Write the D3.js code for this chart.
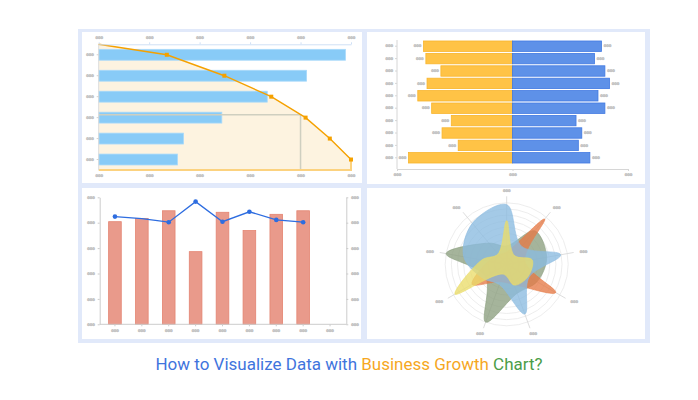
<!DOCTYPE html>
<html>
<head>
<meta charset="utf-8">
<script src="https://cdn.jsdelivr.net/npm/d3@7"></script>
<style>
    body { margin: 0; background: #ffffff; }
</style>
</head>
<body>
<svg id="drawing_region"></svg>
<script>
// top-left: horizontal bars with cumulative curve
const paretoCats = ['A', 'B', 'C', 'D', 'E', 'F'];
const paretoBars = [489, 412, 334, 244, 168, 156];
const paretoLine = [0, 135, 249, 342, 410, 458, 500];
const paretoTicks = [0, 100, 200, 300, 400, 500];
const paretoMark = 400;

// top-right: butterfly bars
const butterflyCats = ['R1', 'R2', 'R3', 'R4', 'R5', 'R6', 'R7', 'R8', 'R9', 'R10'];
const butterflyLeft = [77, 75, 62, 74, 82, 70, 53, 61, 47, 90];
const butterflyRight = [77, 71, 80, 84, 74, 80, 55, 60, 57, 67];
const butterflyTicks = [-100, 0, 100];

// bottom-left: bars + line on two axes
const comboCats = ['C1', 'C2', 'C3', 'C4', 'C5', 'C6', 'C7', 'C8', 'C9'];
const comboBars = [404, 417, 447, 286, 441, 369, 433, 447];
const comboLine = [424, 416, 402, 483, 404, 443, 411, 402];
const comboTicks = [0, 100, 200, 300, 400, 500];

// bottom-right: radar
const radarAxes = ['K1', 'K2', 'K3', 'K4', 'K5', 'K6', 'K7', 'K8', 'K9'];
const radarGreen = [0.30, 0.71, 0.66, 0.57, 0.50, 1.00, 0.40, 1.00, 0.45];
const radarOrange = [0.20, 0.96, 0.30, 0.92, 0.35, 0.30, 0.65, 0.30, 0.20];
const radarBlue = [0.97, 0.38, 0.89, 0.42, 0.86, 0.35, 0.45, 0.71, 0.87];
const radarYellow = [0.71, 0.19, 0.42, 0.40, 0.36, 0.17, 0.97, 0.41, 0.22];

const titleParts = [
    { text: 'How to Visualize Data with ', color: '#3f74dd' },
    { text: 'Business Growth', color: '#f6a71f' },
    { text: ' Chart?', color: '#4b9d48' }
];

const svg = d3.select('#drawing_region')
    .attr('width', 698)
    .attr('height', 400)
    .style('font-family', 'Roboto, sans-serif');

// frame + four white panels
svg.append('rect')
    .attr('x', 78).attr('y', 29).attr('width', 572).attr('height', 314)
    .attr('fill', '#e1e9fa');

const panels = [
    {x: 82, y: 32, w: 280, h: 151},
    {x: 367, y: 32, w: 278, h: 152},
    {x: 82, y: 188, w: 279, h: 151},
    {x: 367, y: 188, w: 278, h: 151}
];
svg.selectAll('.panel')
    .data(panels)
    .enter()
    .append('rect')
    .attr('class', 'panel')
    .attr('x', d => d.x).attr('y', d => d.y)
    .attr('width', d => d.w).attr('height', d => d.h)
    .attr('fill', '#ffffff');

// blurred placeholder labels
function styleText( sel ) {
    sel.attr('font-size', 3.6)
        .attr('font-family', 'DejaVu Sans, sans-serif')
        .attr('font-weight', 'bold')
        .attr('fill', '#b4b4b4')
        .attr('stroke', '#c4c4c4')
        .attr('stroke-width', 0.5)
        .attr('stroke-linejoin', 'round');
}

function styleAxis( g, lineColor ) {
    styleText(g.selectAll('text'));
    g.selectAll('line').attr('stroke', lineColor);
    g.select('.domain').attr('stroke', lineColor);
}

function blob( g, x, y, anchor ) {
    const t = g.append('text')
        .attr('x', x)
        .attr('y', y)
        .attr('text-anchor', anchor || 'middle')
        .attr('dy', '0.35em')
        .text('000');
    styleText(t);
}

// ---------- top-left ----------
{
    const g = svg.append('g');
    const x = d3.scaleLinear().domain([0, 500]).range([98.7, 351]);
    const y = d3.scaleBand().domain(paretoCats).range([44.3, 170])
        .paddingInner(0.48).paddingOuter(0.24);
    const top = 44.3, bottom = 170;

    const ly = (d, i) => i === 0 ? top : y(paretoCats[i - 1]) + y.bandwidth() / 2;
    const pts = paretoLine.map((v, i) => [x(v), ly(v, i)]);

    const area = pts.concat([[x(500), bottom], [x(0), bottom]]);
    g.append('path')
        .attr('d', d3.line()(area) + 'Z')
        .attr('fill', '#fdf3e0');

    g.selectAll('.bar')
        .data(paretoBars)
        .enter()
        .append('rect')
        .attr('x', x(0))
        .attr('y', (d, i) => y(paretoCats[i]))
        .attr('width', d => x(d) - x(0))
        .attr('height', y.bandwidth())
        .attr('fill', '#88cbf7')
        .attr('stroke', '#a8d9fa')
        .attr('stroke-width', 0.8);

    // guide lines at the marked value
    const markY = 114.7;
    g.append('path')
        .attr('d', `M${x(0)},${markY}H${x(paretoMark)}V${bottom}`)
        .attr('fill', 'none')
        .attr('stroke', '#cfcfc0')
        .attr('stroke-width', 1.5);

    g.append('path')
        .attr('d', `M${x(0)},${bottom}H${x(500)}V${pts[pts.length - 1][1]}`)
        .attr('fill', 'none')
        .attr('stroke', '#fcd27f')
        .attr('stroke-width', 2);

    g.append('line')
        .attr('x1', x(0)).attr('x2', x(0))
        .attr('y1', top).attr('y2', bottom)
        .attr('stroke', '#dcdcdc');

    g.append('path')
        .attr('d', d3.line()(pts))
        .attr('fill', 'none')
        .attr('stroke', '#f5a100')
        .attr('stroke-width', 1.4);

    g.selectAll('.dot')
        .data(pts.slice(1))
        .enter()
        .append('rect')
        .attr('x', d => d[0] - 2)
        .attr('y', d => d[1] - 2)
        .attr('width', 4)
        .attr('height', 4)
        .attr('fill', '#f5a100');

    const xTop = g.append('g')
        .attr('transform', `translate(0, ${top})`)
        .call(d3.axisTop(x).tickValues(paretoTicks).tickSize(2).tickSizeOuter(0)
            .tickPadding(3).tickFormat(() => '000'));
    styleAxis(xTop, '#cfe0f6');

    const xBottom = g.append('g')
        .attr('transform', `translate(0, ${bottom})`)
        .call(d3.axisBottom(x).tickValues(paretoTicks).tickSize(0).tickSizeOuter(0)
            .tickPadding(4).tickFormat(() => '000'));
    styleAxis(xBottom, 'none');

    const yLeft = g.append('g')
        .attr('transform', `translate(${x(0)}, 0)`)
        .call(d3.axisLeft(y).tickSize(2).tickSizeOuter(0).tickPadding(3).tickFormat(() => '000'));
    styleAxis(yLeft, '#d0d0d0');
    yLeft.select('.domain').remove();
}

// ---------- top-right ----------
{
    const g = svg.append('g');
    const x = d3.scaleLinear().domain([-100, 100]).range([397, 628]);
    const y = d3.scaleBand().domain(butterflyCats).range([40, 164])
        .paddingInner(0.16).paddingOuter(0.08);
    const bottom = 169;

    g.selectAll('.left')
        .data(butterflyLeft)
        .enter()
        .append('rect')
        .attr('x', d => x(-d))
        .attr('y', (d, i) => y(butterflyCats[i]))
        .attr('width', d => x(0) - x(-d))
        .attr('height', y.bandwidth())
        .attr('fill', '#ffc346')
        .attr('stroke', '#f8b52c')
        .attr('stroke-width', 0.8);

    g.selectAll('.right')
        .data(butterflyRight)
        .enter()
        .append('rect')
        .attr('x', x(0))
        .attr('y', (d, i) => y(butterflyCats[i]))
        .attr('width', d => x(d) - x(0))
        .attr('height', y.bandwidth())
        .attr('fill', '#5e91e8')
        .attr('stroke', '#4079e2')
        .attr('stroke-width', 0.8);

    butterflyLeft.forEach((d, i) => blob(g, x(-d) - 6, y(butterflyCats[i]) + y.bandwidth() / 2));
    butterflyRight.forEach((d, i) => blob(g, x(d) + 6, y(butterflyCats[i]) + y.bandwidth() / 2));

    const xAxis = g.append('g')
        .attr('transform', `translate(0, ${bottom})`)
        .call(d3.axisBottom(x).tickValues(butterflyTicks).tickSize(2).tickSizeOuter(0)
            .tickPadding(2).tickFormat(() => '000'));
    styleAxis(xAxis, '#d6d6d6');

    const yAxis = g.append('g')
        .attr('transform', `translate(${x(-100)}, 0)`)
        .call(d3.axisLeft(y).tickSize(2).tickSizeOuter(0).tickPadding(2).tickFormat(() => '000'));
    styleAxis(yAxis, '#d6d6d6');
    yAxis.select('.domain').attr('d', `M0,${bottom}V40`);
}

// ---------- bottom-left ----------
{
    const g = svg.append('g');
    const left = 99.7, right = 346.3;
    const x = d3.scaleBand().domain(comboCats).range([101.5, 343.5]);
    const y = d3.scaleLinear().domain([0, 500]).range([324.3, 197.3]);
    const y2 = d3.scaleLinear().domain([0, 500]).range([324.3, 197.3]);
    const bw = x.bandwidth() * 0.47;

    g.selectAll('.bar')
        .data(comboBars)
        .enter()
        .append('rect')
        .attr('x', (d, i) => x(comboCats[i]) + x.bandwidth() / 2 - bw / 2)
        .attr('y', d => y(d))
        .attr('width', bw)
        .attr('height', d => y(0) - y(d))
        .attr('fill', '#e99a8b')
        .attr('stroke', '#e48472')
        .attr('stroke-width', 0.8);

    const cx = (d, i) => x(comboCats[i]) + x.bandwidth() / 2;

    g.append('path')
        .attr('d', d3.line().x(cx).y(d => y2(d))(comboLine))
        .attr('fill', 'none')
        .attr('stroke', '#2e6de0')
        .attr('stroke-width', 1.3);

    g.selectAll('.dot')
        .data(comboLine)
        .enter()
        .append('circle')
        .attr('cx', cx)
        .attr('cy', d => y2(d))
        .attr('r', (d, i) => i === 1 ? 0 : 2.3)
        .attr('fill', '#2e6de0');

    const yLeft = g.append('g')
        .attr('transform', `translate(${left}, 0)`)
        .call(d3.axisLeft(y).tickValues(comboTicks).tickSize(2).tickSizeOuter(0)
            .tickPadding(3).tickFormat(() => '000'));
    styleAxis(yLeft, '#cccccc');

    const yRight = g.append('g')
        .attr('transform', `translate(${right}, 0)`)
        .call(d3.axisRight(y2).tickValues(comboTicks).tickSize(2).tickSizeOuter(0)
            .tickPadding(3).tickFormat(() => '000'));
    styleAxis(yRight, '#cccccc');

    const xAxis = g.append('g')
        .attr('transform', `translate(0, ${y(0)})`)
        .call(d3.axisBottom(x).tickSize(2).tickSizeOuter(0).tickPadding(3).tickFormat(() => '000'));
    styleAxis(xAxis, '#cccccc');
    xAxis.select('.domain').attr('d', `M${left},0H${right}`);
}

// ---------- bottom-right ----------
{
    const cxr = 506.7, cyr = 264.3, R = 61.5;
    const g = svg.append('g').attr('transform', `translate(${cxr}, ${cyr})`);
    const angle = d3.scaleBand().domain(radarAxes).range([0, 2 * Math.PI]);
    const r = d3.scaleLinear().domain([0, 1]).range([0, R]);

    g.selectAll('.ring')
        .data(d3.range(1, 11).map(d => d / 10))
        .enter()
        .append('circle')
        .attr('r', d => r(d))
        .attr('fill', 'none')
        .attr('stroke', '#ebebeb')
        .attr('stroke-width', 0.9);

    g.selectAll('.spoke')
        .data(radarAxes)
        .enter()
        .append('line')
        .attr('x1', 0).attr('y1', 0)
        .attr('x2', d => Math.sin(angle(d)) * 68)
        .attr('y2', d => -Math.cos(angle(d)) * 68)
        .attr('stroke', '#d9d9d9')
        .attr('stroke-width', 0.9);

    radarAxes.forEach(d => {
        const a = angle(d);
        blob(g, Math.sin(a) * 78, -Math.cos(a) * 74);
    });

    const shape = d3.lineRadial()
        .angle((d, i) => angle(radarAxes[i]))
        .radius(d => r(d))
        .curve(d3.curveCatmullRomClosed.alpha(0.5));

    const series = [
        {values: radarGreen, color: '#8c9f7f'},
        {values: radarOrange, color: '#e57a47'},
        {values: radarBlue, color: '#8bbbe0'},
        {values: radarYellow, color: '#ebdd6a'}
    ];

    g.selectAll('.area')
        .data(series)
        .enter()
        .append('path')
        .attr('d', d => shape(d.values))
        .attr('fill', d => d.color)
        .attr('fill-opacity', 0.78)
        .attr('stroke', d => d.color)
        .attr('stroke-width', 0.6);
}

// ---------- title ----------
const title = svg.append('text')
    .attr('x', 349)
    .attr('y', 370)
    .attr('text-anchor', 'middle')
    .attr('font-size', '17px');

title.selectAll('tspan')
    .data(titleParts)
    .enter()
    .append('tspan')
    .attr('fill', d => d.color)
    .text(d => d.text);
</script>
</body>
</html>
